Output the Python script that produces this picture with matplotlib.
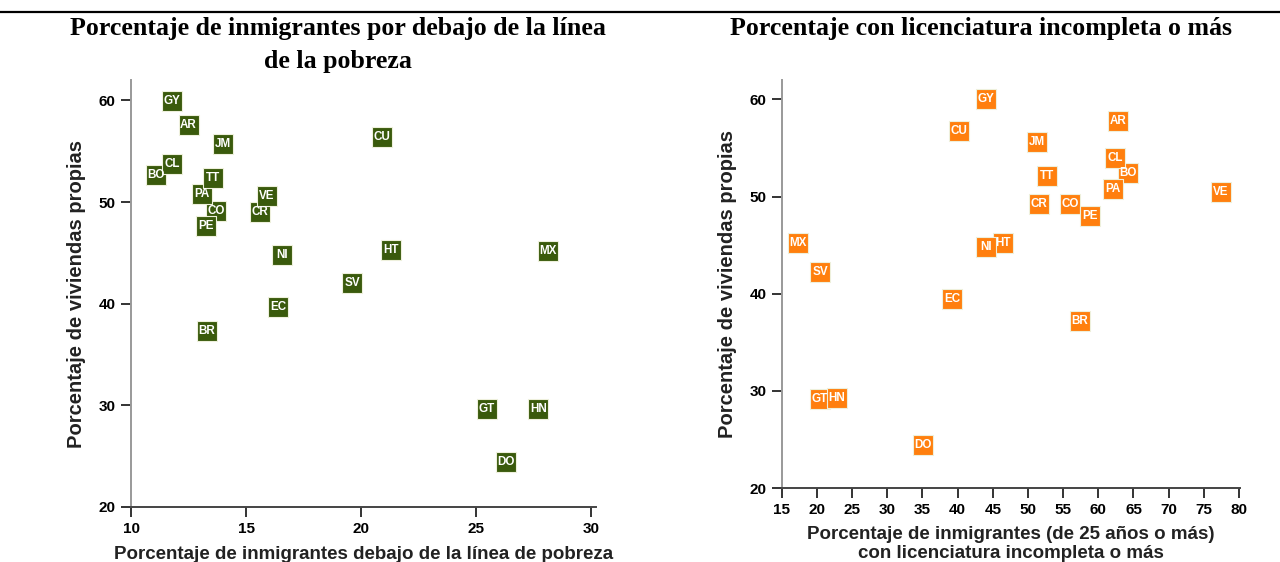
import matplotlib
matplotlib.use('Agg')
import matplotlib.pyplot as plt
from matplotlib.lines import Line2D

codes = ['AR', 'BO', 'BR', 'CL', 'CO', 'CR', 'CU', 'DO', 'EC', 'GT', 'GY',
         'HN', 'HT', 'JM', 'MX', 'NI', 'PA', 'PE', 'SV', 'TT', 'VE']

# left chart: poverty vs home ownership
pov_x = [12.5, 11.1, 13.3, 11.8, 13.7, 15.6, 20.9, 26.3, 16.4, 25.45, 11.8,
         27.7, 21.3, 14.0, 28.1, 16.55, 13.1, 13.25, 19.6, 13.55, 15.9]
pov_y = [57.6, 52.65, 37.3, 53.7, 49.1, 49.05, 56.4, 24.4, 39.7, 29.6, 59.9,
         29.6, 45.3, 55.7, 45.2, 44.8, 50.75, 47.6, 42.0, 52.4, 50.6]

# right chart: college education vs home ownership
edu_x = [62.8, 64.2, 57.4, 62.4, 56.0, 51.6, 40.2, 35.1, 39.2, 20.4, 44.0,
         22.8, 46.5, 51.3, 17.3, 44.0, 62.05, 58.8, 20.5, 52.7, 77.45]
edu_y = [57.8, 52.4, 37.2, 54.0, 49.2, 49.2, 56.7, 24.4, 39.5, 29.2, 60.0,
         29.3, 45.2, 55.65, 45.2, 44.8, 50.75, 48.05, 42.2, 52.1, 50.5]

left_xticks = [10, 15, 20, 25, 30]
right_xticks = [15, 20, 25, 30, 35, 40, 45, 50, 55, 60, 65, 70, 75, 80]
yticks = [20, 30, 40, 50, 60]

GREEN = '#3a5a0c'
ORANGE = '#ff7f0e'

fig = plt.figure(figsize=(12.8, 5.62), dpi=100)

# rule across the top
fig.add_artist(Line2D([0, 1], [1 - 12 / 562, 1 - 12 / 562], color='black',
                      linewidth=1.6, transform=fig.transFigure))

sans = ['Liberation Sans', 'DejaVu Sans']
serif = ['Liberation Serif', 'DejaVu Serif']


def style_axes(ax):
    for side in ['top', 'right']:
        ax.spines[side].set_visible(False)
    ax.spines['left'].set_color('#999999')
    ax.spines['bottom'].set_color('#444444')
    ax.spines['left'].set_linewidth(1.4)
    ax.spines['bottom'].set_linewidth(1.4)
    ax.tick_params(length=7, width=1.2, color='#111111', labelsize=11,
                   pad=4, labelcolor='black')
    for lab in ax.get_xticklabels() + ax.get_yticklabels():
        lab.set_family(sans)
        lab.set_fontweight('bold')


def draw_labels(ax, xs, ys, color):
    ax.scatter(xs, ys, marker='s', s=225, color=color, edgecolors='#eef0dc',
               linewidths=0.8, zorder=3)
    for c, x, y in zip(codes, xs, ys):
        ax.text(x, y, c, color='white', fontsize=8.4, fontweight='bold',
                family=sans, ha='center', va='center', zorder=4)


def axis_label(ax, xlabel, ylabel, xpad, lsp=1.0):
    ax.set_xlabel(xlabel, family=sans, fontweight='bold', fontsize=13.5,
                  color='#222222', labelpad=xpad, linespacing=lsp)
    ax.set_ylabel(ylabel, family=sans, fontweight='bold', fontsize=14.5,
                  color='#222222', labelpad=9)


ax1 = fig.add_axes([131 / 1280, 1 - 507 / 562, 465 / 1280, 427 / 562])
ax1.set_xlim(10, 30.2)
ax1.set_ylim(20, 62)
ax1.set_xticks(left_xticks)
ax1.set_yticks(yticks)
style_axes(ax1)
draw_labels(ax1, pov_x, pov_y, GREEN)
axis_label(ax1, 'Porcentaje de inmigrantes debajo de la línea de pobreza',
           'Porcentaje de viviendas propias', 7)

ax2 = fig.add_axes([781.7 / 1280, 1 - 488 / 562, 458 / 1280, 408 / 562])
ax2.set_xlim(15, 80.1)
ax2.set_ylim(20, 62)
ax2.set_xticks(right_xticks)
ax2.set_yticks(yticks)
style_axes(ax2)
draw_labels(ax2, edu_x, edu_y, ORANGE)
axis_label(ax2, 'Porcentaje de inmigrantes (de 25 años o más)\n'
           'con licenciatura incompleta o más',
           'Porcentaje de viviendas propias', 6, lsp=1.2)

fig.text(338 / 1280, 1 - 17 / 562,
         'Porcentaje de inmigrantes por debajo de la línea\nde la pobreza',
         family=serif, fontweight='bold', fontsize=18.6, ha='center', va='top',
         linespacing=1.55, transform=fig.transFigure)
fig.text(981 / 1280, 1 - 17 / 562, 'Porcentaje con licenciatura incompleta o más',
         family=serif, fontweight='bold', fontsize=18.6, ha='center', va='top',
         transform=fig.transFigure)

fig.savefig('out.png', dpi=100)
